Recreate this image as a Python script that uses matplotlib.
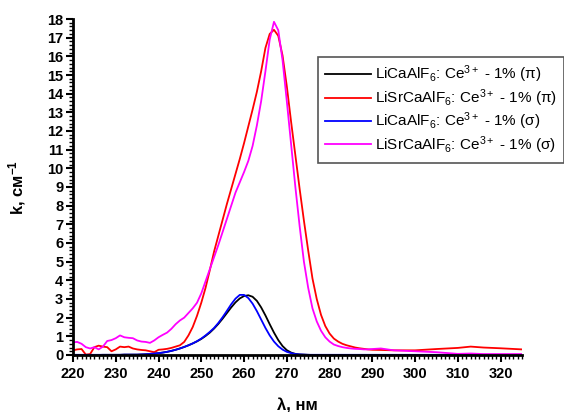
import matplotlib.pyplot as plt
from matplotlib.ticker import MultipleLocator

# wavelength grid, nm
wl = list(range(220, 291)) + [292, 295, 300, 305, 310, 313, 316, 320, 325]

# LiSrCaAlF6: Ce3+ 1% (pi)
red = [0.25, 0.30, 0.32, 0.02, 0.05, 0.42, 0.50, 0.45, 0.42, 0.20,
       0.30, 0.45, 0.42, 0.45, 0.35, 0.30, 0.27, 0.25, 0.20, 0.15,
       0.28, 0.30, 0.33, 0.38, 0.45, 0.52, 0.70, 1.05, 1.50, 2.10,
       2.80, 3.60, 4.55, 5.55, 6.40, 7.25, 8.10, 8.90, 9.70, 10.50,
       11.35, 12.25, 13.15, 14.10, 15.20, 16.45, 17.20, 17.42, 17.10, 16.05,
       14.40, 12.50, 10.70, 8.90, 7.20, 5.60, 4.10, 3.00, 2.15, 1.55,
       1.15, 0.88, 0.72, 0.60, 0.52, 0.46, 0.40, 0.36, 0.33, 0.30,
       0.28,
       0.27, 0.25, 0.25, 0.32, 0.38, 0.45, 0.40, 0.36, 0.30]

# LiSrCaAlF6: Ce3+ 1% (sigma)
magenta = [0.68, 0.70, 0.60, 0.42, 0.35, 0.42, 0.30, 0.45, 0.75, 0.80,
           0.90, 1.05, 0.95, 0.92, 0.90, 0.78, 0.72, 0.70, 0.65, 0.78,
           0.95, 1.08, 1.20, 1.40, 1.65, 1.85, 2.00, 2.25, 2.50, 2.80,
           3.30, 3.95, 4.60, 5.25, 5.90, 6.60, 7.30, 8.00, 8.70, 9.25,
           9.80, 10.40, 11.20, 12.30, 13.60, 15.20, 16.90, 17.85, 17.40, 15.80,
           13.60, 11.30, 9.00, 6.90, 5.00, 3.60, 2.50, 1.80, 1.30, 0.95,
           0.72, 0.56, 0.48, 0.42, 0.38, 0.35, 0.33, 0.32, 0.30, 0.30,
           0.32,
           0.35, 0.25, 0.20, 0.15, 0.06, 0.08, 0.05, 0.05, 0.05]

# LiCaAlF6: Ce3+ 1% (pi)
black = [0.00, 0.00, 0.00, 0.00, 0.00, 0.00, 0.00, 0.01, 0.01, 0.01,
         0.01, 0.01, 0.02, 0.02, 0.02, 0.02, 0.03, 0.04, 0.06, 0.08,
         0.10, 0.13, 0.17, 0.22, 0.28, 0.35, 0.43, 0.52, 0.62, 0.73,
         0.86, 1.02, 1.20, 1.42, 1.67, 1.95, 2.25, 2.55, 2.82, 3.03,
         3.16, 3.20, 3.12, 2.90, 2.55, 2.12, 1.65, 1.20, 0.80, 0.48,
         0.26, 0.13, 0.06, 0.03, 0.02, 0.01, 0.00, 0.00, 0.00, 0.00,
         0.00, 0.00, 0.00, 0.00, 0.00, 0.00, 0.00, 0.00, 0.00, 0.00,
         0.00,
         0.00, 0.00, 0.00, 0.00, 0.00, 0.00, 0.00, 0.00, 0.00]

# LiCaAlF6: Ce3+ 1% (sigma)
blue = [0.01, 0.01, 0.01, 0.01, 0.01, 0.01, 0.01, 0.01, 0.01, 0.01,
        0.01, 0.01, 0.02, 0.02, 0.02, 0.02, 0.03, 0.04, 0.06, 0.08,
        0.10, 0.13, 0.17, 0.22, 0.28, 0.35, 0.43, 0.52, 0.62, 0.74,
        0.88, 1.05, 1.24, 1.45, 1.72, 2.03, 2.37, 2.72, 3.02, 3.22,
        3.22, 3.05, 2.75, 2.35, 1.90, 1.45, 1.05, 0.72, 0.47, 0.29,
        0.17, 0.10, 0.05, 0.03, 0.02, 0.01, 0.01, 0.01, 0.01, 0.01,
        0.01, 0.01, 0.01, 0.01, 0.01, 0.01, 0.01, 0.01, 0.01, 0.01,
        0.01,
        0.01, 0.01, 0.01, 0.01, 0.01, 0.01, 0.01, 0.01, 0.01]

labels = [r"LiCaAlF$_6$: Ce$^{3+}$ - 1% ($\pi$)",
          r"LiSrCaAlF$_6$: Ce$^{3+}$ - 1% ($\pi$)",
          r"LiCaAlF$_6$: Ce$^{3+}$ - 1% ($\sigma$)",
          r"LiSrCaAlF$_6$: Ce$^{3+}$ - 1% ($\sigma$)"]

plt.rcParams['font.family'] = ['Liberation Sans', 'DejaVu Sans']
plt.rcParams['mathtext.fontset'] = 'custom'
plt.rcParams['mathtext.rm'] = 'Liberation Sans'
plt.rcParams['mathtext.it'] = 'Liberation Sans'
plt.rcParams['mathtext.bf'] = 'Liberation Sans:bold'

fig = plt.figure(figsize=(5.64, 4.12), dpi=100)
ax = fig.add_axes([73/564, 1-355/412, (522-73)/564, (355-19)/412])

l1, = ax.plot(wl, black, color='black', lw=1.3)
l2, = ax.plot(wl, red, color='#ff0000', lw=1.3)
l3, = ax.plot(wl, blue, color='#0000ff', lw=1.3)
l4, = ax.plot(wl, magenta, color='#ff00ff', lw=1.3)

ax.set_xlim(220, 325)
ax.set_ylim(0, 18)
ax.xaxis.set_major_locator(MultipleLocator(10))
ax.xaxis.set_minor_locator(MultipleLocator(1))
ax.yaxis.set_major_locator(MultipleLocator(1))
ax.yaxis.set_minor_locator(MultipleLocator(0.2))

for s in ['top', 'right']:
    ax.spines[s].set_visible(False)
for s in ['left', 'bottom']:
    ax.spines[s].set_linewidth(2)
ax.tick_params(which='major', length=5, width=1.5, labelsize=10.5)
ax.tick_params(which='minor', length=3, width=1)
for lab in ax.get_xticklabels() + ax.get_yticklabels():
    lab.set_fontweight('bold')
ax.tick_params(axis='x', pad=4)
ax.tick_params(axis='y', pad=2)

ax.set_xlabel("λ, нм", fontsize=12, fontweight='bold', labelpad=12)
ax.set_ylabel(r"k, см$^{\mathbf{-1}}$", fontsize=12, fontweight='bold', labelpad=14)

leg = fig.legend([l1, l2, l3, l4], labels, loc='upper left',
                 bbox_to_anchor=(318/564, 1-57/412), fontsize=11,
                 frameon=True, fancybox=False, framealpha=1,
                 edgecolor='#555555', handlelength=3, handletextpad=0.3,
                 labelspacing=0.12, borderpad=0.45, borderaxespad=0)
leg.get_frame().set_linewidth(1.2)

fig.savefig("out.png", dpi=100)
